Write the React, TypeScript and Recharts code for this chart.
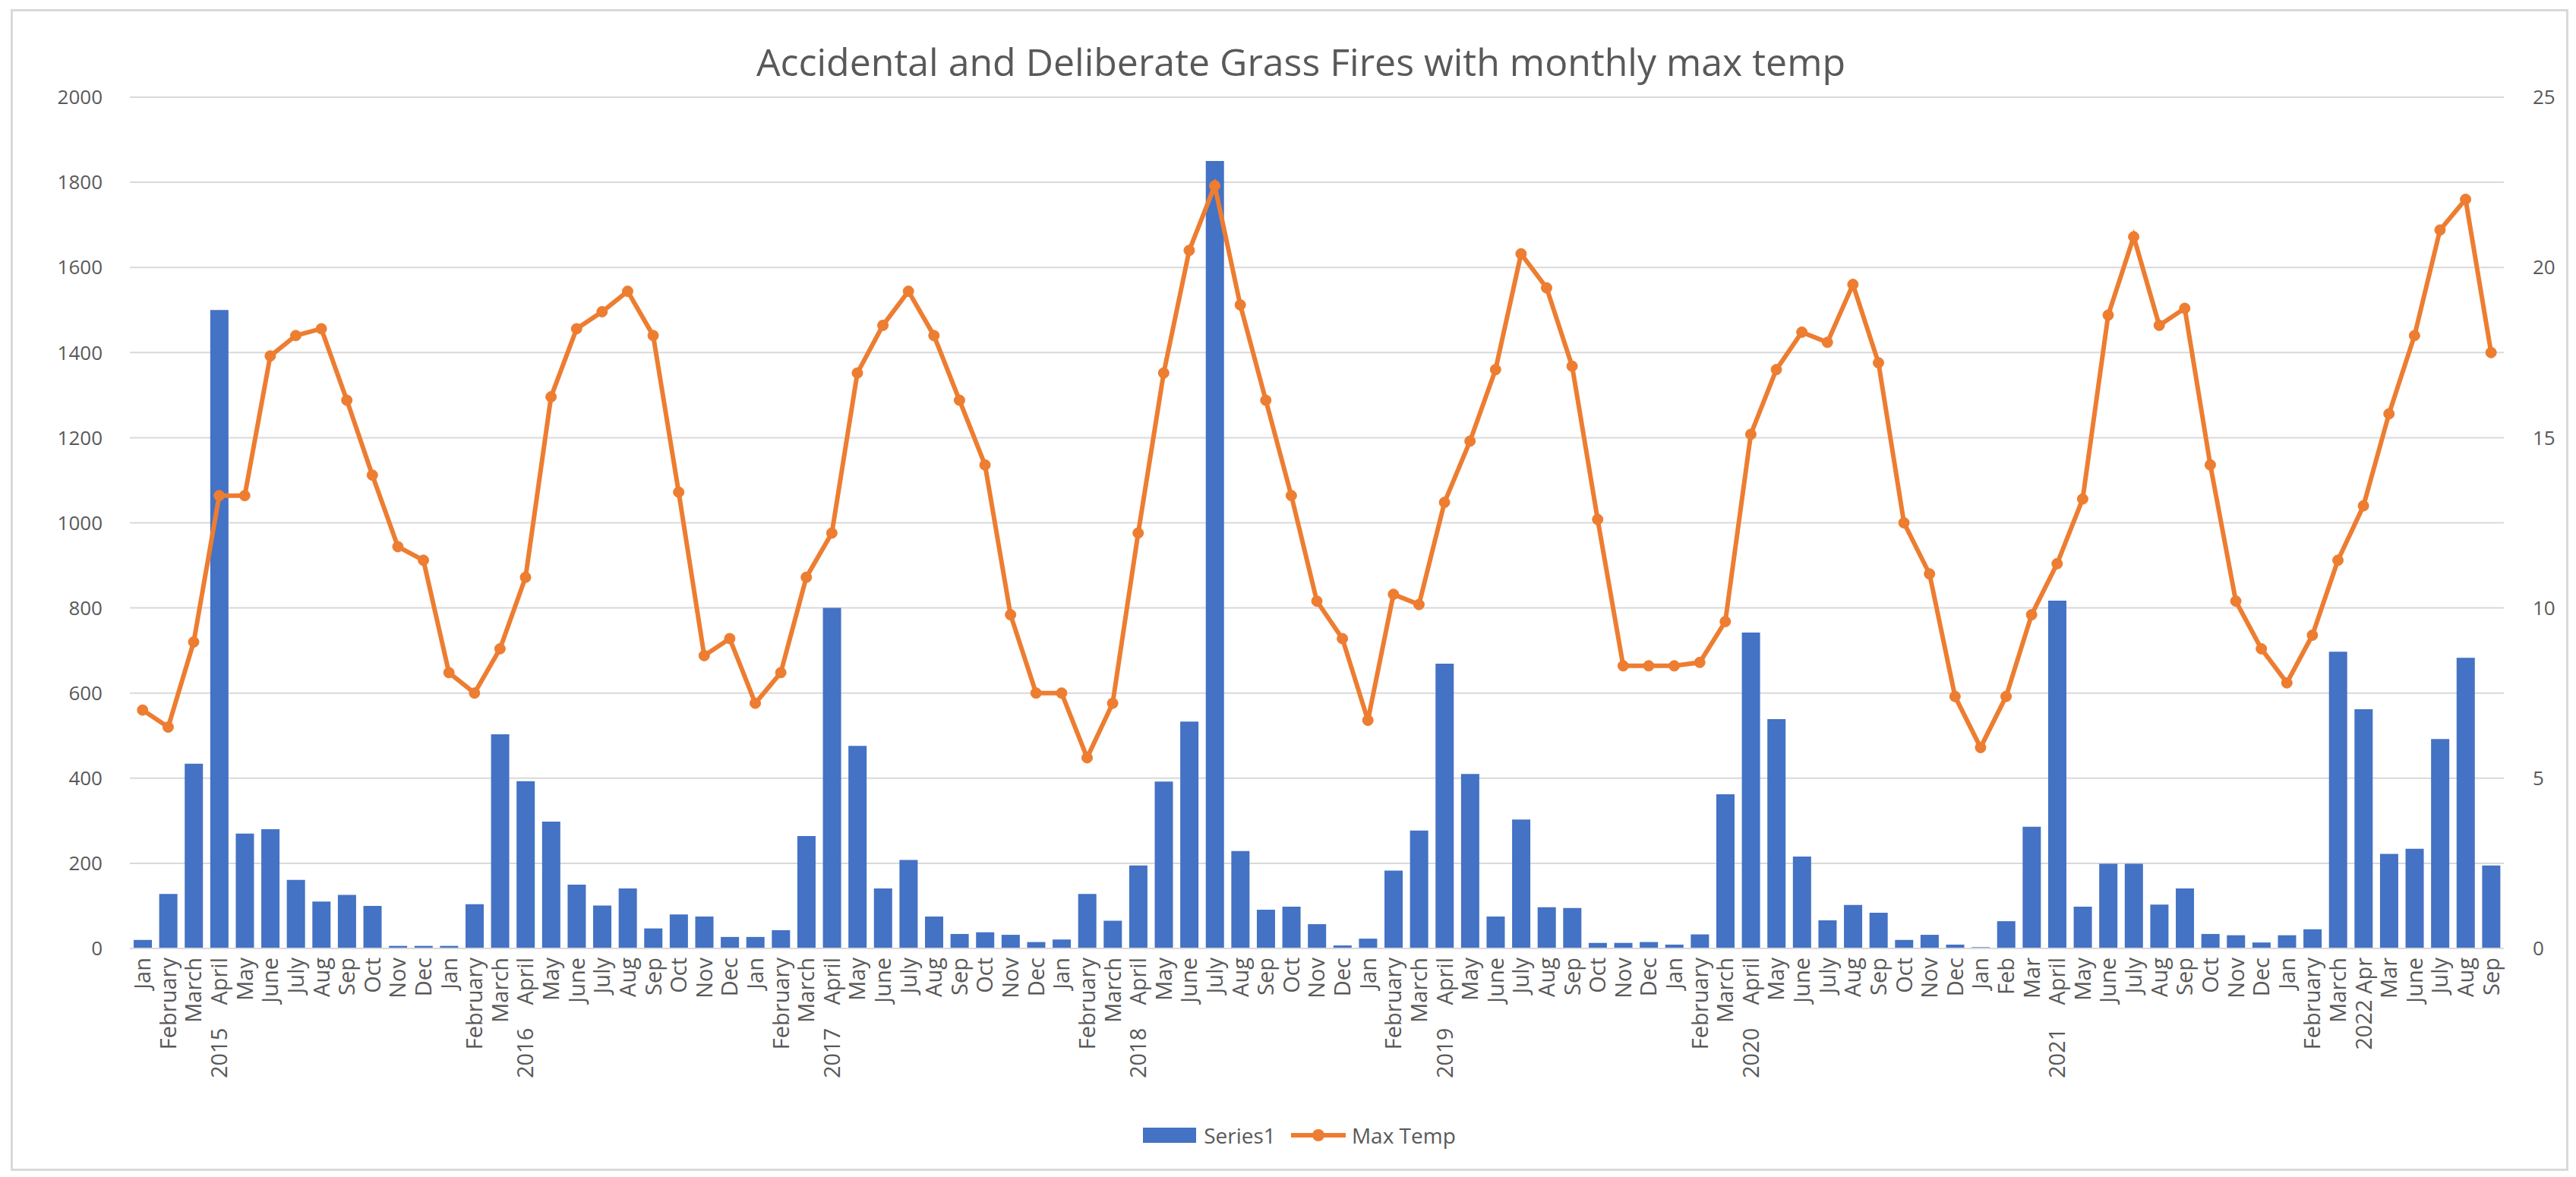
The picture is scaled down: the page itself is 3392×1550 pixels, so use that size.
import React from 'react';
import { ComposedChart, Bar, Line, XAxis, YAxis, CartesianGrid, Legend } from 'recharts';

const months = [
  'Jan', 'February', 'March', '2015    April', 'May', 'June', 'July', 'Aug', 'Sep', 'Oct', 'Nov', 'Dec',
  'Jan', 'February', 'March', '2016    April', 'May', 'June', 'July', 'Aug', 'Sep', 'Oct', 'Nov', 'Dec',
  'Jan', 'February', 'March', '2017    April', 'May', 'June', 'July', 'Aug', 'Sep', 'Oct', 'Nov', 'Dec',
  'Jan', 'February', 'March', '2018    April', 'May', 'June', 'July', 'Aug', 'Sep', 'Oct', 'Nov', 'Dec',
  'Jan', 'February', 'March', '2019    April', 'May', 'June', 'July', 'Aug', 'Sep', 'Oct', 'Nov', 'Dec',
  'Jan', 'February', 'March', '2020    April', 'May', 'June', 'July', 'Aug', 'Sep', 'Oct', 'Nov', 'Dec',
  'Jan', 'Feb', 'Mar', '2021    April', 'May', 'June', 'July', 'Aug', 'Sep', 'Oct', 'Nov', 'Dec',
  'Jan', 'February', 'March', '2022 Apr', 'Mar', 'June', 'July', 'Aug', 'Sep',
];

// grass fires per month (Series1)
const fires = [
  20, 128, 434, 1500, 270, 280, 161, 110, 126, 100, 6, 6,
  6, 104, 503, 393, 298, 150, 101, 141, 47, 80, 75, 27,
  27, 43, 264, 800, 476, 141, 208, 75, 34, 38, 32, 15,
  21, 128, 65, 195, 392, 533, 1850, 229, 91, 98, 57, 7,
  23, 183, 277, 669, 410, 75, 303, 97, 95, 13, 13, 15,
  9, 33, 362, 742, 539, 216, 66, 102, 84, 20, 32, 9,
  3, 64, 286, 817, 98, 199, 199, 103, 141, 34, 31, 14,
  31, 45, 697, 562, 222, 234, 492, 683, 195,
];

// monthly max temperature
const maxTemp = [
  7.0, 6.5, 9.0, 13.3, 13.3, 17.4, 18.0, 18.2, 16.1, 13.9, 11.8, 11.4,
  8.1, 7.5, 8.8, 10.9, 16.2, 18.2, 18.7, 19.3, 18.0, 13.4, 8.6, 9.1,
  7.2, 8.1, 10.9, 12.2, 16.9, 18.3, 19.3, 18.0, 16.1, 14.2, 9.8, 7.5,
  7.5, 5.6, 7.2, 12.2, 16.9, 20.5, 22.4, 18.9, 16.1, 13.3, 10.2, 9.1,
  6.7, 10.4, 10.1, 13.1, 14.9, 17.0, 20.4, 19.4, 17.1, 12.6, 8.3, 8.3,
  8.3, 8.4, 9.6, 15.1, 17.0, 18.1, 17.8, 19.5, 17.2, 12.5, 11.0, 7.4,
  5.9, 7.4, 9.8, 11.3, 13.2, 18.6, 20.9, 18.3, 18.8, 14.2, 10.2, 8.8,
  7.8, 9.2, 11.4, 13.0, 15.7, 18.0, 21.1, 22.0, 17.5,
];

const leftTicks = [0, 200, 400, 600, 800, 1000, 1200, 1400, 1600, 1800, 2000];
const rightTicks = [0, 5, 10, 15, 20, 25];

const data = months.map((m, i) => ({ month: m, fires: fires[i], temp: maxTemp[i] }));

const FONT = '"Open Sans", "Liberation Sans", sans-serif';
const GREY = '#595959';
const BLUE = '#4472C4';
const ORANGE = '#ED7D31';

const MonthTick = (props: any) => {
  const { x, y, payload } = props;
  return (
    <text
      transform={`translate(${x},${y}) rotate(-90)`}
      textAnchor="end"
      dy="0.36em"
      fill={GREY}
      fontSize={29}
      fontFamily={FONT}
      style={{ whiteSpace: 'pre' }}
    >
      {payload.value}
    </text>
  );
};

const LegendContent = () => (
  <div
    style={{
      height: 40,
      display: 'flex',
      justifyContent: 'center',
      alignItems: 'center',
      fontFamily: FONT,
      fontSize: 28,
      color: GREY,
      paddingLeft: 30,
    }}
  >
    <span style={{ display: 'inline-block', width: 70, height: 20, background: BLUE, marginRight: 10 }} />
    <span style={{ marginRight: 20 }}>Series1</span>
    <svg width={72} height={20} style={{ marginRight: 8 }}>
      <line x1={0} y1={10} x2={72} y2={10} stroke={ORANGE} strokeWidth={6} />
      <circle cx={36} cy={10} r={8} fill={ORANGE} />
    </svg>
    <span>Max Temp</span>
  </div>
);

export default function App() {
  return (
    <div style={{ position: 'relative', width: 3392, height: 1550, background: '#fff' }}>
      <style>{`body{margin:0}`}</style>
      <div
        style={{
          position: 'absolute',
          left: 14,
          top: 12,
          width: 3362,
          height: 1524,
          border: '3px solid #D9D9D9',
          pointerEvents: 'none',
        }}
      />
      <div
        style={{
          position: 'absolute',
          top: 51,
          left: 0,
          width: 3426,
          textAlign: 'center',
          fontFamily: FONT,
          fontSize: 50,
          color: GREY,
          lineHeight: '60px',
        }}
      >
        Accidental and Deliberate Grass Fires with monthly max temp
      </div>
      <ComposedChart
        width={3392}
        height={1550}
        data={data}
        margin={{ top: 128, right: 0, left: 0, bottom: 35 }}
      >
        <CartesianGrid vertical={false} stroke="#D9D9D9" strokeWidth={2} yAxisId="left" />
        <XAxis
          dataKey="month"
          interval={0}
          height={226}
          tick={<MonthTick />}
          tickLine={false}
          tickSize={0}
          tickMargin={12}
          axisLine={{ stroke: '#D9D9D9', strokeWidth: 2 }}
        />
        <YAxis
          yAxisId="left"
          width={171}
          domain={[0, 2000]}
          ticks={leftTicks}
          interval={0}
          axisLine={false}
          tickLine={false}
          tickSize={0}
          tickMargin={36}
          tick={{ fill: GREY, fontSize: 26, fontFamily: FONT }}
        />
        <YAxis
          yAxisId="right"
          orientation="right"
          width={95}
          domain={[0, 25]}
          ticks={rightTicks}
          interval={0}
          axisLine={false}
          tickLine={false}
          tickSize={0}
          tickMargin={38}
          tick={{ fill: GREY, fontSize: 26, fontFamily: FONT, textAnchor: 'start' }}
        />
        <Legend verticalAlign="bottom" content={<LegendContent />} />
        <Bar yAxisId="left" dataKey="fires" name="Series1" fill={BLUE} barSize={24} isAnimationActive={false} />
        <Line
          yAxisId="right"
          type="linear"
          dataKey="temp"
          name="Max Temp"
          stroke={ORANGE}
          strokeWidth={6}
          dot={{ r: 7, fill: ORANGE, stroke: ORANGE, strokeWidth: 1 }}
          isAnimationActive={false}
        />
      </ComposedChart>
    </div>
  );
}
